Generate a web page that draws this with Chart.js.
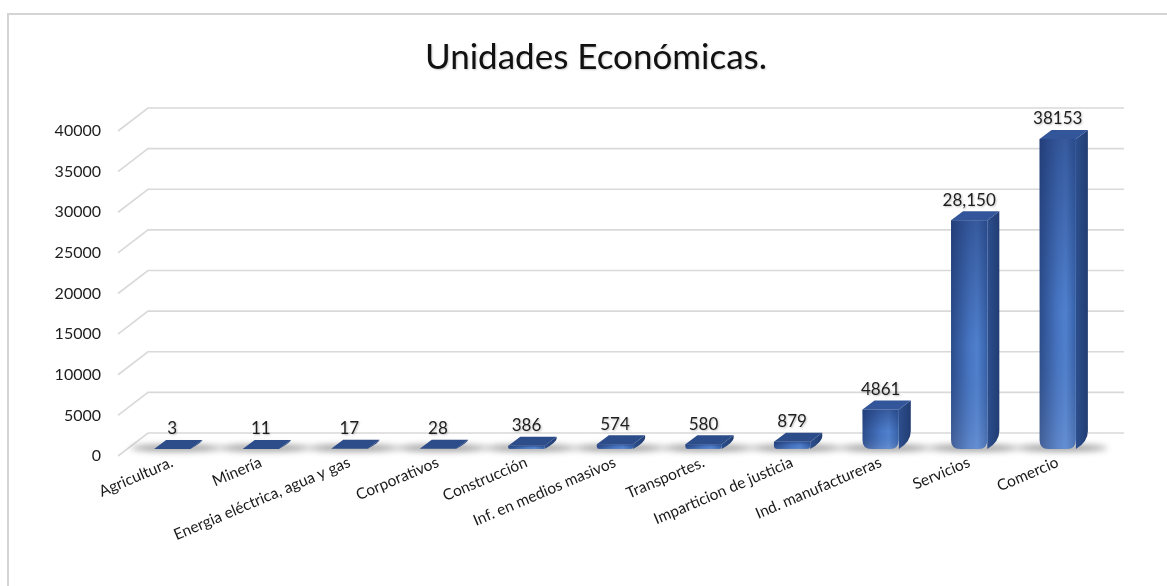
<!DOCTYPE html>
<html>
<head>
<meta charset="utf-8">
<script src="https://cdn.jsdelivr.net/npm/chart.js@4/dist/chart.umd.min.js"></script>
<style>
  body{margin:0;background:#fff;}
  #frame{position:absolute;left:7px;top:13px;width:1170px;height:600px;border-left:2px solid #d4d4d4;border-top:2px solid #d4d4d4;}
  #wrap{position:absolute;left:0;top:0;width:1167px;height:586px;}
  #title{position:absolute;left:396px;width:400px;top:34px;text-align:center;font:35px Lato,"Open Sans",sans-serif;color:#111;text-shadow:1px 1px 2px rgba(0,0,0,0.2);}
</style>
</head>
<body>
<div id="frame"></div>
<div id="wrap"><canvas id="chart" width="1167" height="586"></canvas></div>
<div id="title"></div>
<script>
const categories = ['Agricultura.','Minería','Energia eléctrica, agua y gas','Corporativos','Construcción','Inf. en medios masivos','Transportes.','Imparticion de justicia','Ind. manufactureras','Servicios','Comercio'];
const values = [3,11,17,28,386,574,580,879,4861,28150,38153];
const valueLabels = ['3','11','17','28','386','574','580','879','4861','28,150','38153'];
const yMax = 40000;
const yStep = 5000;
const titleText = 'Unidades Económicas.';

document.getElementById('title').textContent = titleText;

const FONT = 'Lato, "Open Sans", sans-serif';
const DX = 12, DY = 9; // depth of the fake 3d

// back-wall grid lines, floor shadows, then bar faces and value labels
const bar3d = {
  id:'bar3d',
  beforeDatasetsDraw(chart){
    const {ctx, chartArea:a, scales:{y}} = chart;
    ctx.save();
    ctx.strokeStyle='#d9d9d9';
    ctx.lineWidth=1.6;
    for(let v=0; v<=yMax; v+=yStep){
      const py = y.getPixelForValue(v);
      ctx.beginPath();
      ctx.moveTo(a.left-10, py+7);
      ctx.lineTo(a.left+20, py-16);
      ctx.lineTo(a.right+22, py-16);
      ctx.stroke();
    }
    chart.getDatasetMeta(0).data.forEach(b=>{
      ctx.save();
      ctx.filter='blur(3px)';
      ctx.fillStyle='rgba(80,80,80,0.55)';
      ctx.beginPath();
      ctx.ellipse(b.x+4, b.base-1, 46, 3.5, 0, 0, Math.PI*2);
      ctx.fill();
      ctx.restore();
    });
    ctx.restore();
  },
  afterDatasetsDraw(chart){
    const {ctx} = chart;
    const meta = chart.getDatasetMeta(0);
    ctx.save();
    meta.data.forEach((b,i)=>{
      const x1 = b.x-b.width/2, x2 = b.x+b.width/2;
      const top = b.y, base = b.base;
      const h = base-top;
      const r = Math.min(9, h/2);

      // side face
      const gs = ctx.createLinearGradient(x2,0,x2+DX,0);
      gs.addColorStop(0,'#2d4f8e');
      gs.addColorStop(1,'#213d72');
      ctx.fillStyle=gs;
      ctx.beginPath();
      ctx.moveTo(x2, top);
      ctx.lineTo(x2+DX, top-DY);
      ctx.lineTo(x2+DX, Math.max(top-DY, base-DY-r));
      ctx.quadraticCurveTo(x2+DX, base-DY+2, x2, base);
      ctx.closePath();
      ctx.fill();

      // front face
      if(h>0.5){
        const gf = ctx.createLinearGradient(x1,0,x2,0);
        gf.addColorStop(0,'#2b4c8a');
        gf.addColorStop(0.5,'#4775c2');
        gf.addColorStop(0.72,'#5080cd');
        gf.addColorStop(1,'#3560a8');
        ctx.fillStyle=gf;
        ctx.beginPath();
        ctx.moveTo(x1, top);
        ctx.lineTo(x2, top);
        ctx.lineTo(x2, base-r);
        ctx.quadraticCurveTo(x2, base, x2-r, base);
        ctx.lineTo(x1+r, base);
        ctx.quadraticCurveTo(x1, base, x1, base-r);
        ctx.closePath();
        ctx.fill();
        const gv = ctx.createLinearGradient(0,top,0,base);
        gv.addColorStop(0,'rgba(25,45,100,0.45)');
        gv.addColorStop(0.55,'rgba(25,45,100,0)');
        gv.addColorStop(1,'rgba(255,255,255,0.12)');
        ctx.fillStyle=gv;
        ctx.fill();
      }

      // top face
      ctx.fillStyle = h>20 ? '#33569a' : '#2c4d8a';
      ctx.beginPath();
      ctx.moveTo(x1, top);
      ctx.lineTo(x1+DX, top-DY);
      ctx.lineTo(x2+DX, top-DY);
      ctx.lineTo(x2, top);
      ctx.closePath();
      ctx.fill();

      // value label
      ctx.fillStyle='#1e1e1e';
      ctx.font='17px '+FONT;
      ctx.textAlign='center';
      ctx.textBaseline='middle';
      ctx.shadowColor='rgba(0,0,0,0.25)';
      ctx.shadowBlur=2;
      ctx.shadowOffsetX=1;
      ctx.shadowOffsetY=1;
      ctx.fillText(valueLabels[i], b.x, top-DY-11);
      ctx.shadowColor='transparent';
    });
    ctx.restore();
  }
};

new Chart(document.getElementById('chart'),{
  type:'bar',
  data:{
    labels:categories,
    datasets:[{
      data:values,
      backgroundColor:'rgba(0,0,0,0)',
      borderWidth:0,
      categoryPercentage:1,
      barPercentage:0.41
    }]
  },
  options:{
    responsive:false,
    animation:false,
    layout:{padding:{left:0,right:65,top:124,bottom:0}},
    plugins:{
      legend:{display:false},
      tooltip:{enabled:false},
      title:{display:false}
    },
    scales:{
      x:{
        grid:{display:false},
        border:{display:false},
        ticks:{
          color:'#1a1a1a',
          font:{family:FONT,size:15.5},
          minRotation:23,
          maxRotation:23,
          autoSkip:false,
          padding:-4
        },
        afterFit(s){ s.height=137; }
      },
      y:{
        min:0,
        max:yMax,
        grid:{display:false,drawTicks:false},
        border:{display:false},
        ticks:{
          stepSize:yStep,
          color:'#1e1e1e',
          font:{family:FONT,size:16},
          padding:27,
          labelOffset:7,
          callback:v=>String(v)
        },
        afterFit(s){ s.width=128; }
      }
    }
  },
  plugins:[bar3d]
});
</script>
</body>
</html>
